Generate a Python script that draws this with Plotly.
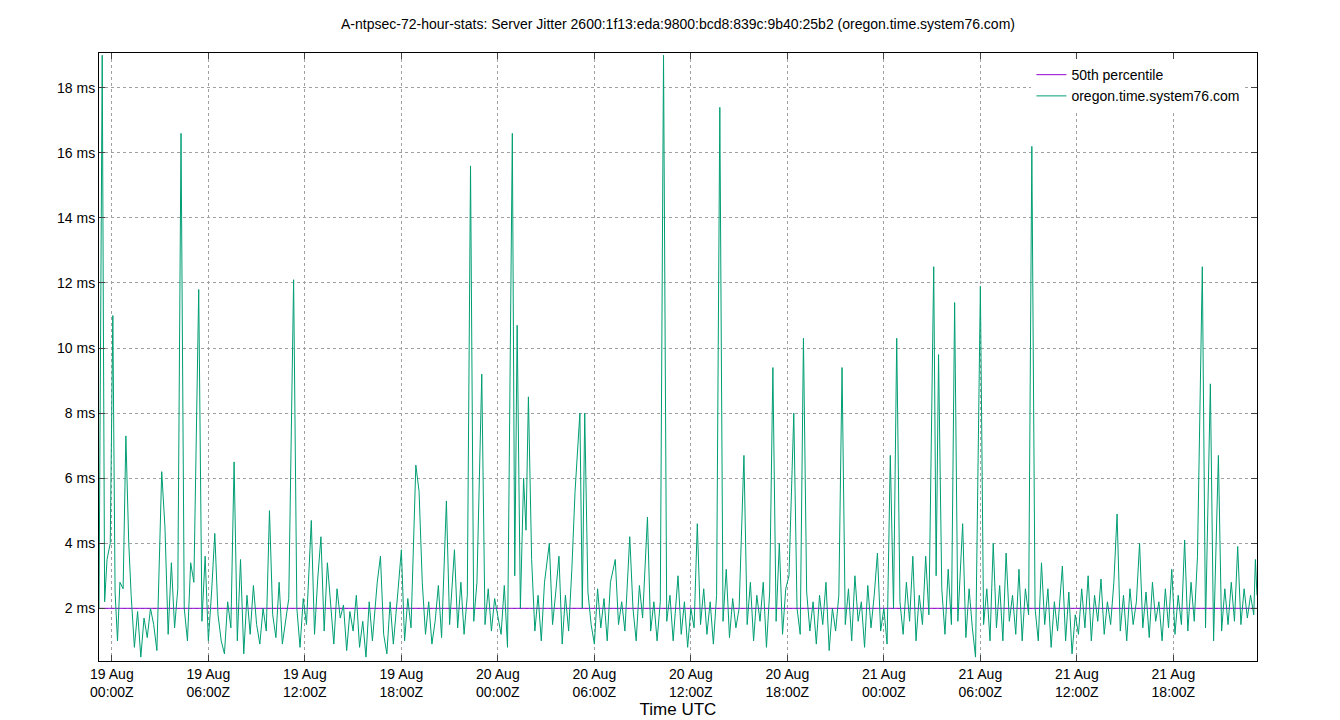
import plotly.graph_objects as go
from datetime import datetime, timedelta

# hours after 19 Aug 00:00Z, and server jitter in ms
hours = [
    -0.8, -0.6, -0.45, -0.3, -0.1, 0.06, 0.2, 0.35, 0.5, 0.7, 0.87, 1.05, 1.2, 1.4, 1.6, 1.8, 2.0, 2.2, 2.4, 2.6,
    2.8, 3.1, 3.3, 3.5, 3.7, 3.9, 4.1, 4.3, 4.5, 4.7, 4.9, 5.1, 5.4, 5.6, 5.8, 6.0, 6.2, 6.4, 6.6, 6.8,
    7.0, 7.2, 7.4, 7.6, 7.8, 8.0, 8.2, 8.4, 8.6, 8.8, 9.0, 9.2, 9.4, 9.6, 9.8, 10.0, 10.2, 10.4, 10.6, 10.8,
    11.0, 11.3, 11.5, 11.7, 11.9, 12.1, 12.4, 12.6, 12.8, 13.0, 13.2, 13.4, 13.6, 13.8, 14.0, 14.2, 14.4, 14.6, 14.8, 15.0,
    15.2, 15.4, 15.6, 15.8, 16.0, 16.2, 16.5, 16.7, 16.9, 17.1, 17.3, 17.5, 17.8, 18.0, 18.2, 18.4, 18.6, 18.9, 19.1, 19.3,
    19.5, 19.7, 19.9, 20.1, 20.3, 20.5, 20.8, 21.0, 21.3, 21.5, 21.7, 21.9, 22.1, 22.3, 22.5, 22.7, 23.0, 23.2, 23.4, 23.6,
    23.8, 24.0, 24.2, 24.4, 24.6, 24.9, 25.05, 25.2, 25.4, 25.6, 25.75, 25.9, 26.1, 26.3, 26.5, 26.7, 26.9, 27.2, 27.4, 27.6,
    27.8, 28.0, 28.2, 28.4, 28.6, 28.8, 29.1, 29.25, 29.4, 29.6, 29.8, 30.0, 30.2, 30.4, 30.6, 30.8, 31.0, 31.3, 31.5, 31.7,
    31.9, 32.2, 32.4, 32.6, 32.8, 33.0, 33.3, 33.5, 33.7, 33.9, 34.1, 34.3, 34.5, 34.7, 34.9, 35.2, 35.4, 35.6, 35.8, 36.0,
    36.2, 36.4, 36.6, 36.8, 37.0, 37.2, 37.4, 37.6, 37.8, 38.0, 38.2, 38.4, 38.6, 38.8, 39.0, 39.3, 39.5, 39.7, 39.9, 40.1,
    40.3, 40.5, 40.7, 40.9, 41.1, 41.3, 41.5, 41.7, 41.9, 42.1, 42.4, 42.6, 42.8, 43.0, 43.2, 43.4, 43.6, 43.8, 44.0, 44.2,
    44.4, 44.6, 44.8, 45.0, 45.2, 45.4, 45.6, 45.8, 46.0, 46.2, 46.4, 46.6, 46.8, 47.0, 47.2, 47.4, 47.6, 47.8, 48.0, 48.2,
    48.4, 48.6, 48.8, 49.0, 49.2, 49.4, 49.6, 49.8, 50.0, 50.2, 50.4, 50.6, 50.8, 51.1, 51.25, 51.4, 51.6, 51.8, 52.0, 52.2,
    52.4, 52.6, 52.9, 53.1, 53.3, 53.5, 53.7, 54.0, 54.2, 54.4, 54.6, 54.8, 55.0, 55.2, 55.4, 55.6, 55.8, 56.0, 56.2, 56.4,
    56.6, 56.8, 57.0, 57.2, 57.4, 57.6, 57.8, 58.0, 58.2, 58.4, 58.6, 58.8, 59.1, 59.3, 59.5, 59.7, 59.9, 60.1, 60.3, 60.5,
    60.7, 60.9, 61.1, 61.3, 61.5, 61.7, 61.9, 62.1, 62.3, 62.5, 62.7, 62.9, 63.1, 63.3, 63.5, 63.7, 63.9, 64.1, 64.3, 64.5,
    64.7, 64.9, 65.1, 65.3, 65.5, 65.7, 65.9, 66.1, 66.3, 66.5, 66.7, 66.9, 67.1, 67.3, 67.5, 67.8, 68.0, 68.3, 68.5, 68.8,
    69.0, 69.2, 69.4, 69.6, 69.8, 70.0, 70.2, 70.4, 70.6, 70.8, 71.0, 71.1, 71.2,
]
jitter_ms = [
    2.0, 19.0, 2.2, 3.5, 4.0, 11.0, 2.5, 1.0, 2.8, 2.6, 7.3, 4.0, 2.4, 0.8, 1.9, 0.5, 1.7, 1.1, 2.0, 1.5,
    0.7, 6.2, 4.5, 1.2, 3.4, 1.4, 2.6, 16.6, 2.0, 1.0, 3.4, 2.8, 11.8, 1.6, 3.6, 1.0, 2.5, 4.3, 1.8, 1.0,
    0.6, 2.2, 1.4, 6.5, 1.0, 3.5, 0.6, 2.4, 1.2, 2.7, 1.5, 0.9, 2.0, 1.3, 5.0, 1.8, 1.1, 2.8, 0.9, 1.6,
    2.3, 12.1, 2.0, 0.8, 2.3, 1.5, 4.7, 1.2, 2.9, 4.2, 1.3, 3.4, 2.0, 0.9, 2.6, 1.7, 2.1, 0.7, 1.9, 1.3,
    2.4, 0.8, 1.6, 0.5, 2.2, 1.0, 2.8, 3.6, 1.2, 0.6, 2.2, 0.9, 2.6, 3.8, 1.0, 2.3, 1.4, 6.4, 5.6, 2.8,
    1.2, 2.2, 0.9, 1.6, 2.7, 1.1, 5.3, 1.5, 3.8, 1.4, 2.8, 1.2, 2.4, 15.6, 1.6, 2.8, 9.2, 1.5, 2.6, 1.3,
    2.3, 1.8, 1.2, 2.7, 0.8, 16.6, 3.0, 10.7, 2.0, 6.0, 4.4, 8.5, 3.5, 1.3, 2.4, 1.0, 2.8, 4.0, 1.5, 2.5,
    3.6, 0.9, 2.4, 1.3, 3.2, 5.6, 8.0, 2.0, 8.0, 2.5, 1.5, 0.9, 2.6, 1.4, 2.3, 1.0, 2.8, 3.5, 1.5, 2.2,
    1.3, 4.2, 2.0, 1.0, 2.7, 1.7, 4.8, 1.3, 2.2, 1.0, 2.2, 19.0, 1.6, 2.4, 1.0, 3.0, 1.2, 2.2, 0.8, 2.0,
    1.4, 4.6, 1.5, 2.6, 1.2, 2.2, 0.9, 2.4, 17.4, 1.6, 3.2, 1.1, 2.3, 1.4, 2.0, 6.7, 1.5, 2.8, 1.0, 2.4,
    1.6, 2.8, 0.8, 2.5, 9.4, 1.6, 4.0, 1.2, 2.6, 3.0, 8.0, 2.0, 1.2, 10.3, 2.5, 1.3, 2.2, 0.9, 2.4, 1.5,
    2.8, 0.7, 2.0, 1.3, 2.4, 9.4, 1.5, 2.6, 1.0, 3.0, 1.6, 2.2, 0.8, 2.7, 1.4, 2.4, 3.7, 1.3, 2.0, 0.9,
    6.7, 2.0, 10.3, 2.2, 1.2, 2.8, 1.6, 3.6, 1.0, 2.4, 1.5, 3.6, 1.8, 12.5, 3.0, 9.8, 2.6, 1.2, 3.2, 1.5,
    11.4, 1.6, 4.6, 1.1, 2.6, 1.4, 0.5, 11.9, 1.5, 2.6, 1.0, 4.0, 1.4, 2.7, 1.0, 3.7, 1.6, 2.4, 1.2, 3.2,
    1.0, 2.6, 1.8, 16.2, 2.0, 1.0, 3.4, 1.5, 2.6, 0.8, 2.2, 1.3, 3.3, 1.0, 2.5, 0.6, 1.8, 1.2, 2.6, 1.4,
    3.0, 1.0, 2.4, 1.6, 2.9, 1.2, 2.2, 1.5, 2.8, 4.9, 1.3, 2.4, 1.0, 2.6, 1.5, 2.2, 4.0, 1.4, 2.5, 1.1,
    2.8, 1.6, 2.2, 1.0, 2.6, 1.4, 3.2, 1.2, 2.4, 1.5, 4.1, 1.3, 2.8, 1.6, 3.6, 12.5, 1.4, 8.9, 1.0, 6.7,
    1.3, 2.6, 1.5, 2.8, 1.6, 3.9, 1.5, 2.6, 1.7, 2.4, 1.8, 3.5, 2.4,
]
median_ms = 2.0

tick_hours = [0, 6, 12, 18, 24, 30, 36, 42, 48, 54, 60, 66]
tick_labels = ["19 Aug<br>00:00Z", "19 Aug<br>06:00Z", "19 Aug<br>12:00Z", "19 Aug<br>18:00Z",
               "20 Aug<br>00:00Z", "20 Aug<br>06:00Z", "20 Aug<br>12:00Z", "20 Aug<br>18:00Z",
               "21 Aug<br>00:00Z", "21 Aug<br>06:00Z", "21 Aug<br>12:00Z", "21 Aug<br>18:00Z"]
y_ticks = [2, 4, 6, 8, 10, 12, 14, 16, 18]

base = datetime(2025, 8, 19)
def t(h):
    return base + timedelta(hours=h)

times = [t(h) for h in hours]
x0, x1 = t(-0.8), t(71.2)

fig = go.Figure()
fig.add_trace(go.Scatter(x=[x0, x1], y=[median_ms, median_ms], mode="lines",
                         line=dict(color="#9400d3", width=1), name="50th percentile"))
fig.add_trace(go.Scatter(x=times, y=jitter_ms, mode="lines",
                         line=dict(color="#009e73", width=1), name="oregon.time.system76.com"))

fig.update_layout(
    width=1340, height=720,
    paper_bgcolor="white", plot_bgcolor="white",
    font=dict(family="Liberation Sans, Arial, sans-serif", size=14, color="black"),
    title=dict(text="A-ntpsec-72-hour-stats: Server Jitter 2600:1f13:eda:9800:bcd8:839c:9b40:25b2 (oregon.time.system76.com)",
               x=0.5, y=0.985, yanchor="top", font=dict(size=14)),
    margin=dict(l=91, r=91, t=45, b=64),
    showlegend=True,
    legend=dict(x=0.99, y=0.99, xanchor="right", yanchor="top", bgcolor="white",
                font=dict(size=14), tracegroupgap=0),
)
fig.update_xaxes(
    range=[x0, x1], tickvals=[t(h) for h in tick_hours], ticktext=tick_labels,
    showgrid=True, gridcolor="#a0a0a0", griddash="dot", gridwidth=1,
    showline=True, linecolor="black", mirror="ticks", ticks="inside", ticklen=6,
    title=dict(text="Time UTC", standoff=4), zeroline=False,
)
fig.update_yaxes(
    range=[0.38, 19.07], tickvals=y_ticks, ticktext=[f"{v} ms" for v in y_ticks],
    showgrid=True, gridcolor="#a0a0a0", griddash="dot", gridwidth=1,
    showline=True, linecolor="black", mirror="ticks", ticks="inside", ticklen=6,
    zeroline=False,
)

fig.write_html("out.html")
